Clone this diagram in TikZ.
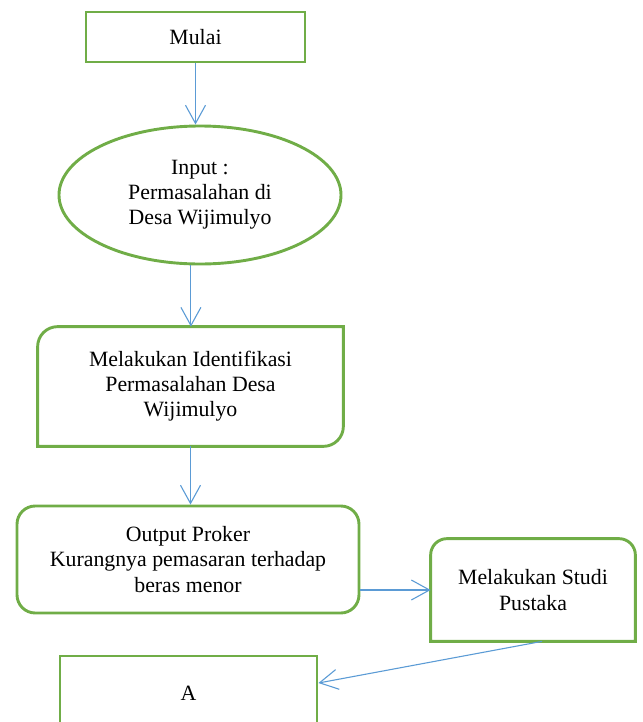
\documentclass[tikz,border=0pt]{standalone}
\usepackage{fontspec}
\setmainfont{Liberation Serif}
\usetikzlibrary{arrows.meta,shapes.geometric}
\definecolor{boxgreen}{HTML}{70AD47}
\definecolor{arrowblue}{HTML}{5B9BD5}

\begin{document}
\begin{tikzpicture}[x=0.55pt,y=-0.55pt,
    txt/.style={align=center,font=\fontsize{12}{13.8}\selectfont,inner sep=0pt},
    box/.style={txt,draw=boxgreen,line width=1.6pt},
    outline/.style={draw=boxgreen,line width=1.6pt},
    flow/.style={arrowblue,line width=0.6pt,-{Straight Barb[length=10pt,width=11pt]}}]
  \useasboundingbox (0,0) rectangle (643,722);
  \clip (0,0) rectangle (643,722);

  \node[box,minimum width=120.45pt,minimum height=27.5pt] (mulai) at (195.5,37) {Mulai};
  \node[box,shape=ellipse,minimum width=155.1pt,minimum height=75.9pt] (input) at (200,195)
    {Input :\\Permasalahan di\\Desa Wijimulyo};

  % top-left and bottom-right corners rounded
  \node[txt,minimum width=167.75pt,minimum height=65.45pt] (ident) at (190.5,386.5)
    {Melakukan Identifikasi\\Permasalahan Desa\\Wijimulyo};
  \draw[outline] (ident.south west) -- ([yshift=-11pt]ident.north west)
    arc[start angle=180,end angle=90,radius=11pt] -- (ident.north east)
    -- ([yshift=11pt]ident.south east) arc[start angle=0,end angle=-90,radius=11pt] -- cycle;

  \node[box,rounded corners=10pt,minimum width=188.1pt,minimum height=58.85pt] (output) at (188,559.5)
    {Output Proker\\Kurangnya pemasaran terhadap\\beras menor};

  % only the top corners rounded
  \node[txt,minimum width=112.2pt,minimum height=56.1pt] (studi) at (533,590) {Melakukan Studi\\Pustaka};
  \draw[outline] (studi.south west) -- ([yshift=-9pt]studi.north west)
    arc[start angle=180,end angle=90,radius=9pt] -- ([xshift=-9pt]studi.north east)
    arc[start angle=90,end angle=0,radius=9pt] -- (studi.south east) -- cycle;

  \node[box,minimum width=141.35pt,minimum height=40.7pt] (A) at (188.5,693) {A};

  \draw[flow] (mulai.south) -- (mulai.south |- input.north);
  \draw[flow] ([xshift=-5pt]input.south) -- ([xshift=-5pt]input.south |- ident.north);
  \draw[flow] (ident.south) -- (ident.south |- output.north);
  \draw[flow] (output.east |- studi.west) -- (studi.west);
  \draw[flow] ([xshift=5pt]studi.south) -- ([yshift=5.5pt]A.east);
\end{tikzpicture}
\end{document}
